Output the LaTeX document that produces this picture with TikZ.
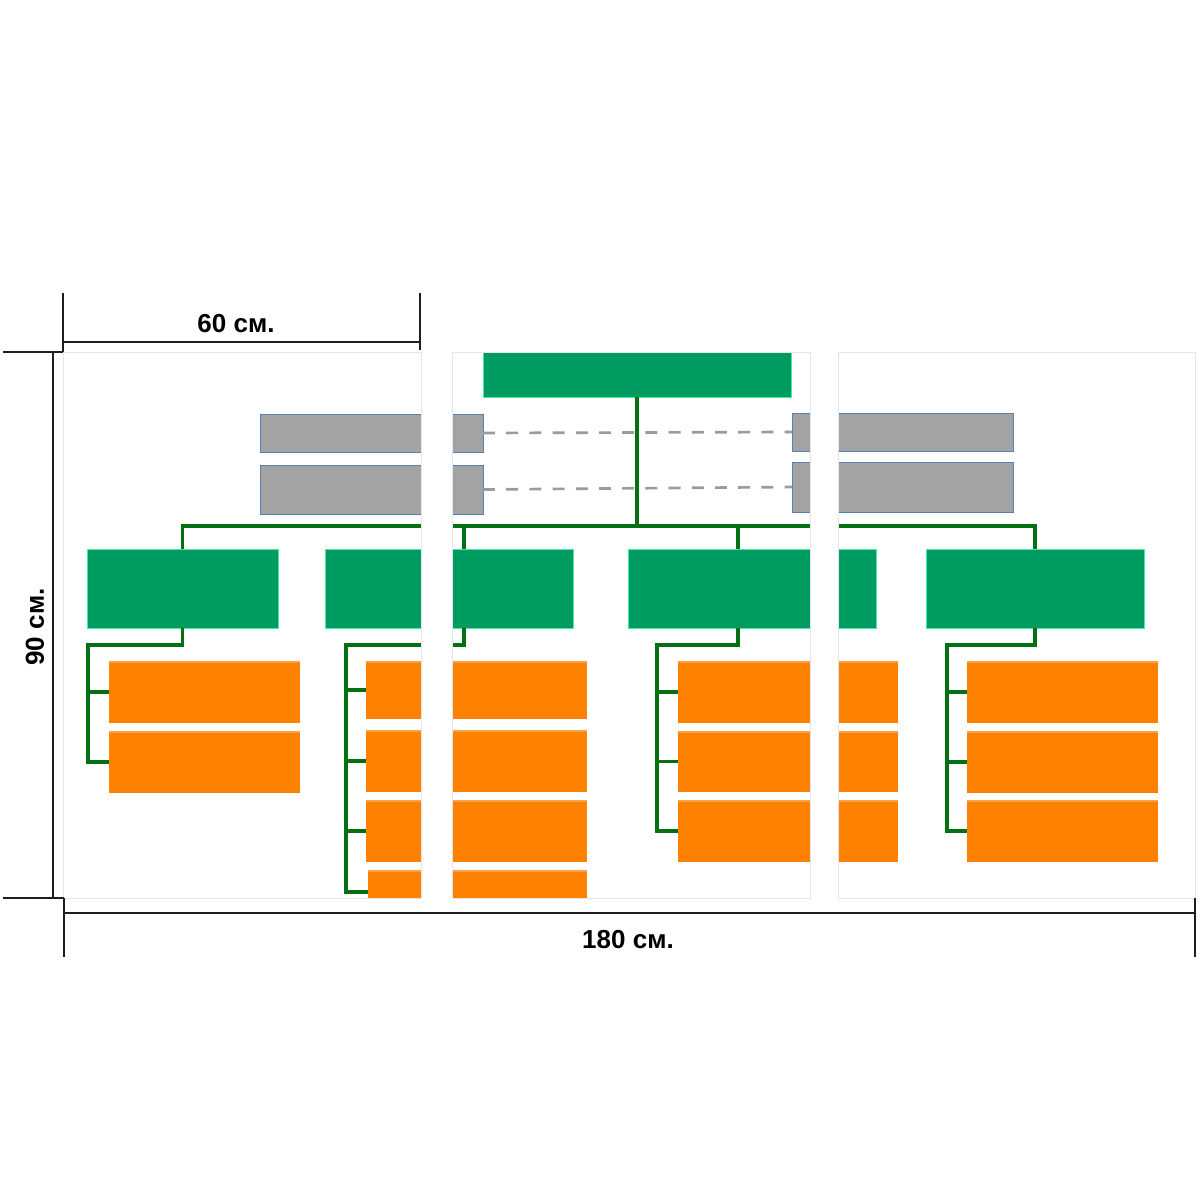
\documentclass[tikz,border=0pt]{standalone}
\usepackage{fontspec}
\setmainfont{Liberation Sans}
\usetikzlibrary{fit}
\definecolor{gfill}{RGB}{0,155,96}
\definecolor{gedge}{RGB}{70,235,165}
\definecolor{grayfill}{RGB}{163,163,163}
\definecolor{grayedge}{RGB}{90,130,175}
\definecolor{orfill}{RGB}{255,129,0}
\definecolor{orlight}{RGB}{255,160,70}
\definecolor{conncol}{RGB}{5,112,18}
\definecolor{dashcol}{RGB}{155,155,155}
\definecolor{dimcol}{RGB}{30,30,30}
\definecolor{panelcol}{RGB}{230,228,240}
\tikzset{
  greenbox/.style={draw=gedge, fill=gfill, line width=0.6pt, inner sep=0pt, outer sep=0pt},
  graybox/.style={draw=grayedge, fill=grayfill, line width=0.6pt, inner sep=0pt, outer sep=0pt},
  orbox/.style={fill=orfill, draw=none, inner sep=0pt, outer sep=0pt},
  conn/.style={draw=conncol, line width=2.2pt, line join=miter, line cap=butt},
  dashconn/.style={draw=dashcol, line width=1.9pt, dash pattern=on 8.5pt off 8pt},
  dimline/.style={draw=dimcol, line width=1.4pt},
  dimlabel/.style={font=\bfseries\fontsize{18.5}{22}\selectfont, text=black, inner sep=0pt},
  gapstrip/.style={fill=white, draw=none},
  panelframe/.style={draw=panelcol, line width=0.5pt}
}
\begin{document}
\begin{tikzpicture}[x=0.025cm, y=-0.025cm]
\useasboundingbox[fill=white] (0,0) rectangle (1200,1200);

% top green box
\node[greenbox, fit={(483,352) (791,397)}] (top) {};
% gray boxes
\node[graybox, fit={(260,414) (483,452)}] (gL1) {};
\node[graybox, fit={(260,465) (483,514)}] (gL2) {};
\node[graybox, fit={(792,413) (1013,451)}] (gR1) {};
\node[graybox, fit={(792,462) (1013,512)}] (gR2) {};
% second-level green boxes
\node[greenbox, fit={(87,549) (278,628)}] (A) {};
\node[greenbox, fit={(325,549) (573,628)}] (B) {};
\node[greenbox, fit={(628,549) (876,628)}] (C) {};
\node[greenbox, fit={(926,549) (1144,628)}] (D) {};
% orange boxes
\node[orbox, fit={(109,661) (300,723)}] (A1) {};
\node[orbox, fit={(109,731) (300,793)}] (A2) {};
\node[orbox, fit={(366,661) (587,719)}] (B1) {};
\node[orbox, fit={(366,730) (587,792)}] (B2) {};
\node[orbox, fit={(366,800) (587,862)}] (B3) {};
\node[orbox, fit={(368,870) (587,898)}] (B4) {};
\node[orbox, fit={(678,661) (898,723)}] (C1) {};
\node[orbox, fit={(678,731) (898,792)}] (C2) {};
\node[orbox, fit={(678,800) (898,862)}] (C3) {};
\node[orbox, fit={(967,661) (1158,723)}] (D1) {};
\node[orbox, fit={(967,731) (1158,793)}] (D2) {};
\node[orbox, fit={(967,800) (1158,862)}] (D3) {};
% light top edges of orange boxes
\foreach \n in {A1,A2,B1,B2,B3,B4,C1,C2,C3,D1,D2,D3}{
  \draw[orlight, line width=1.2pt] ([yshift=-0.6pt]\n.north west) -- ([yshift=-0.6pt]\n.north east);
}

% connector coordinates
\coordinate (bus) at (637,526);
\coordinate (dB) at (464,526);
\coordinate (dC) at (738,526);
\coordinate (sB) at (464,628);
\coordinate (sC) at (738,628);
\coordinate (aL) at (88,645);
\coordinate (bL) at (346,645);
\coordinate (cL) at (657,645);
\coordinate (eL) at (947,645);

% dashed lines
\draw[dashconn] (gL1.east) -- (gR1.west);
\draw[dashconn] (gL2.east) -- (gR2.west);

% trunk and bus
\draw[conn] (top.south) -- (top.south |- bus);
\draw[conn] (A.north) |- (D.north |- bus) -- (D.north);
\draw[conn] (dB) -- (dB |- B.north);
\draw[conn] (dC) -- (dC |- C.north);

% children of A
\draw[conn] (A.south) |- (aL) |- (A2.west);
\draw[conn] (aL |- A1.west) -- (A1.west);
% children of B
\draw[conn] (sB) |- (bL) |- ([yshift=4.3pt]B4.south west);
\draw[conn] (bL |- B1.west) -- (B1.west);
\draw[conn] (bL |- B2.west) -- (B2.west);
\draw[conn] (bL |- B3.west) -- (B3.west);
% children of C
\draw[conn] (sC) |- (cL) |- (C3.west);
\draw[conn] (cL |- C1.west) -- (C1.west);
\draw[conn] (cL |- C2.west) -- (C2.west);
% children of D
\draw[conn] (D.south) |- (eL) |- (D3.west);
\draw[conn] (eL |- D1.west) -- (D1.west);
\draw[conn] (eL |- D2.west) -- (D2.west);

% gaps between the three panels
\fill[gapstrip] (421,351) rectangle (452,899);
\fill[gapstrip] (810,351) rectangle (838,899);
% panel frames
\draw[panelframe] (63,352) rectangle (421,898);
\draw[panelframe] (452,352) rectangle (810,898);
\draw[panelframe] (838,352) rectangle (1195,898);

% dimension lines
\draw[dimline] (3,352) -- (63,352);
\draw[dimline] (63,293) -- (63,352);
\draw[dimline] (420,293) -- (420,350);
\draw[dimline] (63,342) -- (420,342);
\draw[dimline] (53,352) -- (53,898);
\draw[dimline] (3,898) -- (64,898);
\draw[dimline] (64,898) -- (64,957);
\draw[dimline] (64,913) -- (1195,913);
\draw[dimline] (1195,898) -- (1195,957);

% labels
\node[dimlabel] (w60) at (236,324) {60 см.};
\node[dimlabel] (w180) at (628,940) {180 см.};
\node[dimlabel, rotate=90] (h90) at (35,627) {90 см.};
\end{tikzpicture}
\end{document}
